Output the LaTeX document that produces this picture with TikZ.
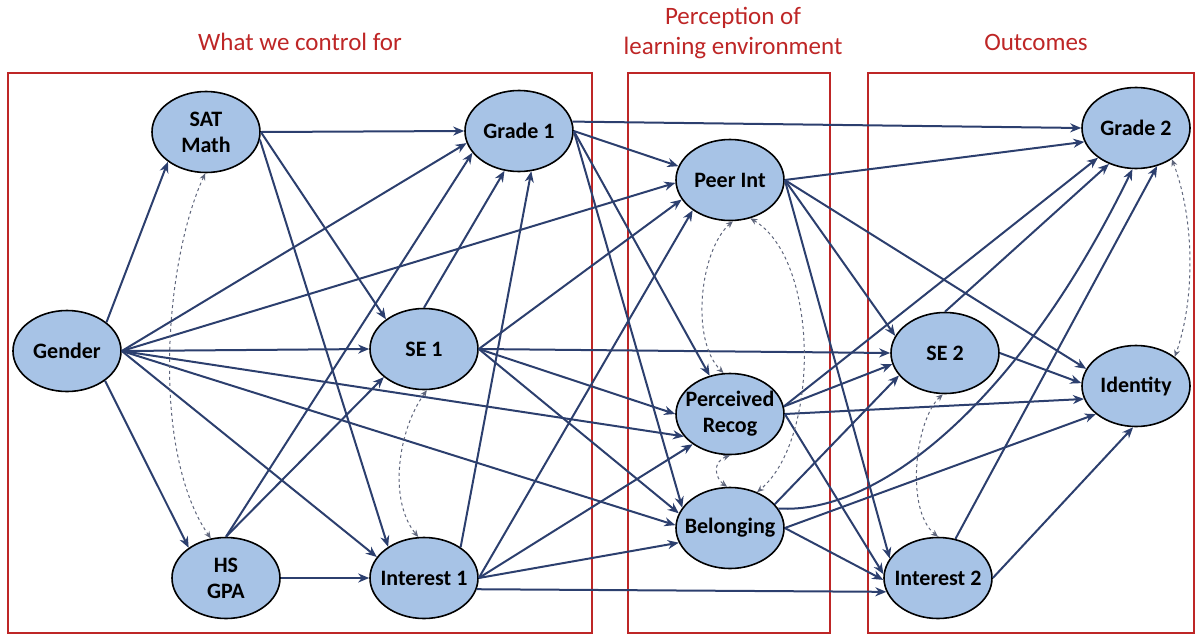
\documentclass[tikz,border=0pt]{standalone}
\usepackage{fontspec}
\setmainfont{Carlito}
\usetikzlibrary{shapes.geometric,arrows.meta}
\definecolor{edgeblue}{RGB}{44,63,110}
\definecolor{nodefill}{RGB}{167,195,230}
\definecolor{boxred}{RGB}{190,38,38}
\definecolor{dashgray}{RGB}{95,102,124}

\begin{document}
\begin{tikzpicture}[x=1pt,y=-1pt,
  var/.style={ellipse, draw=black, line width=1.6pt, fill=nodefill,
    minimum width=108pt, minimum height=81pt, inner sep=0pt},
  vlabel/.style={font=\fontsize{22}{26}\selectfont\bfseries, align=center, text=black},
  link/.style={draw=edgeblue, line width=2pt,
    -{Stealth[length=11pt,width=9pt,inset=3.5pt]}},
  corr/.style={draw=dashgray, line width=1pt, dashed,
    {Stealth[length=7pt,width=6pt]}-{Stealth[length=7pt,width=6pt]}},
  panel/.style={draw=boxred, line width=2.8pt},
  heading/.style={text=boxred, font=\fontsize{25}{30}\selectfont, align=center}]

\useasboundingbox (0,0) rectangle (1196,635);

% the three groups of variables
\draw[panel] (8,73) rectangle (592,633);
\draw[panel] (628,73) rectangle (830,633);
\draw[panel] (868,73) rectangle (1194,633);

\node[heading] (t1) at (300,42) {What we control for};
\node[heading] (t2) at (733,33) {Perception of\\learning environment};
\node[heading] (t3) at (1036,42) {Outcomes};

% variables
\node[var, label={[vlabel]center:Gender}] (gender) at (67,351) {};
\node[var, label={[vlabel]center:SAT\\Math}] (sat) at (206,132) {};
\node[var, label={[vlabel]center:HS\\GPA}] (hs) at (226,578) {};
\node[var, label={[vlabel]center:Grade 1}] (g1) at (519,131) {};
\node[var, label={[vlabel]center:SE 1}] (se1) at (424,349) {};
\node[var, label={[vlabel]center:Interest 1}] (int1) at (424,578) {};
\node[var, label={[vlabel]center:Peer Int}] (pint) at (730,180) {};
\node[var, label={[vlabel]center:Perceived\\Recog}] (pr) at (730,414) {};
\node[var, label={[vlabel]center:Belonging}] (bel) at (730,528) {};
\node[var, label={[vlabel]center:Grade 2}] (g2) at (1136,128) {};
\node[var, label={[vlabel]center:SE 2}] (se2) at (945,353) {};
\node[var, label={[vlabel]center:Identity}] (iden) at (1136,386) {};
\node[var, label={[vlabel]center:Interest 2}] (int2) at (938,578) {};

% paths from Gender
\draw[link] (gender.36) -- (sat.218);
\draw[link] (gender.322) -- (hs.141);
\draw[link] (gender.east) -- (g1.193);
\draw[link] (gender.east) -- (pint.183);
\draw[link] (gender.east) -- (se1.west);
\draw[link] (gender.east) -- (pr.206);
\draw[link] (gender.east) -- (bel.177);
\draw[link] (gender.east) -- (int1.156);

% paths from SAT Math
\draw[link] (sat.east) -- (g1.west);
\draw[link] (sat.east) -- (se1.142);
\draw[link] (sat.352) -- (int1.139);

% paths from HS GPA
\draw[link] (hs.east) -- (int1.west);
\draw[link] (hs.north) -- (g1.205);
\draw[link] (hs.north) -- (se1.215);

% paths from SE 1
\draw[link] (se1.north) -- (g1.250);
\draw[link] (se1.east) -- (pint.202);
\draw[link] (se1.east) -- (pr.west);
\draw[link] (se1.east) -- (bel.164);
\draw[link] (se1.east) -- (se2.west);

% paths from Interest 1
\draw[link] (int1.40) -- (g1.287);
\draw[link] (int1.east) -- (pint.219);
\draw[link] (int1.east) -- (pr.219);
\draw[link] (int1.east) -- (bel.196);
\draw[link] (int1.348) -- (int2.195);

% paths from Grade 1
\draw[link] (g1.10) -- (g2.west);
\draw[link] (g1.east) -- (pint.165);
\draw[link] (g1.east) -- (pr.118);
\draw[link] (g1.east) -- (bel.157);

% paths from Peer Int
\draw[link] (pint.east) -- (g2.195);
\draw[link] (pint.east) -- (se2.161);
\draw[link] (pint.east) -- (iden.161);
\draw[link] (pint.east) -- (int2.158);

% paths from Perceived Recog
\draw[link] (pr.8) -- (g2.218);
\draw[link] (pr.8) -- (se2.192);
\draw[link] (pr.east) -- (iden.194);
\draw[link] (pr.east) -- (int2.176);

% paths from Belonging
\draw[link] (bel.28) -- (se2.206);
\draw[link] (bel.22) .. controls (880,515) and (1020,400) .. (g2.265);
\draw[link] (bel.east) -- (iden.215);
\draw[link] (bel.east) -- (int2.182);

% paths from the outcomes
\draw[link] (se2.north) -- (g2.233);
\draw[link] (se2.east) -- (iden.177);
\draw[link] (int2.66) -- (g2.299);
\draw[link] (int2.east) -- (iden.266);

% correlations
\draw[corr] (sat.269) .. controls (165,260) and (150,450) .. (hs.111);
\draw[corr] (se1.274) .. controls (398,430) and (388,500) .. (int1.98);
\draw[corr] (pint.274) .. controls (700,250) and (690,340) .. (pr.99);
\draw[corr] (pint.298) .. controls (820,260) and (820,440) .. (bel.53);
\draw[corr] (pr.270) .. controls (712,462) and (715,478) .. (bel.94);
\draw[corr] (se2.267) .. controls (915,420) and (905,510) .. (int2.90);
\draw[corr] (g2.319) .. controls (1195,220) and (1195,300) .. (iden.37);

\end{tikzpicture}
\end{document}
